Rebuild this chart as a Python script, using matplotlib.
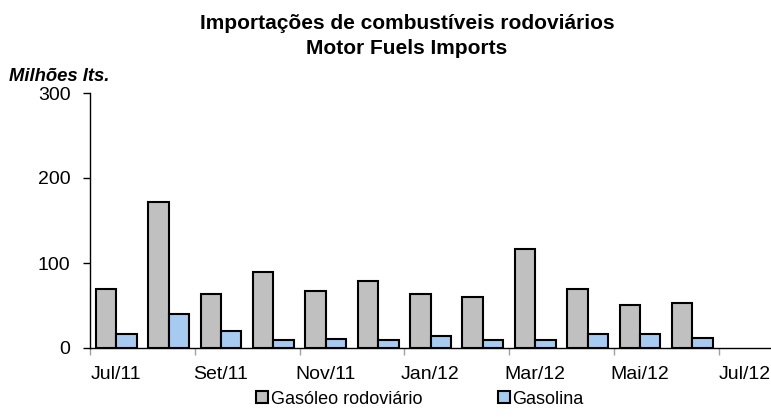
import matplotlib
matplotlib.use("Agg")
import matplotlib.pyplot as plt
import numpy as np

# Data (milhões de litros)
months = ['Jul/11', 'Ago/11', 'Set/11', 'Out/11', 'Nov/11', 'Dez/11',
          'Jan/12', 'Fev/12', 'Mar/12', 'Abr/12', 'Mai/12', 'Jun/12', 'Jul/12']
gasoleo = [70, 172, 63, 90, 67, 79, 63, 60, 117, 70, 51, 53, None]
gasolina = [17, 40, 20, 10, 11, 10, 14, 10, 10, 17, 16, 12, None]
y_ticks = [0, 100, 200, 300]

plt.rcParams['font.family'] = ['Liberation Sans', 'DejaVu Sans']

fig = plt.figure(figsize=(7.71, 4.17), dpi=100)
ax = fig.add_axes([90 / 771, 1 - 348 / 417, 1 - 90 / 771, (348 - 93) / 417])

x = np.arange(len(months))
w = 0.39
has = np.array([v is not None for v in gasoleo])
g_vals = np.array([v for v in gasoleo if v is not None])
b_vals = np.array([v for v in gasolina if v is not None])

ax.bar(x[has] - w / 2, g_vals, width=w, color='#C0C0C0',
       edgecolor='black', linewidth=1.5, label='Gasóleo rodoviário', zorder=2)
ax.bar(x[has] + w / 2, b_vals, width=w, color='#A6CAF0',
       edgecolor='black', linewidth=1.5, label='Gasolina', zorder=2)

ax.set_xlim(-0.5, len(months) - 0.5)
ax.set_ylim(0, 300)
ax.set_yticks(y_ticks)

# tick marks on category boundaries, labels on every other category
ax.set_xticks(np.arange(-0.5, len(months), 2))
ax.set_xticklabels([])
ax.set_xticks(x[::2], minor=True)
ax.set_xticklabels(months[::2], minor=True)
ax.tick_params(axis='x', which='major', length=5, color='#A0A0A0', width=1)
ax.tick_params(axis='x', which='minor', length=0, pad=13, labelsize=14)
ax.tick_params(axis='y', length=5, width=1, pad=9, labelsize=14)

for s in ['top', 'right']:
    ax.spines[s].set_visible(False)
ax.spines['left'].set_linewidth(1)
ax.spines['bottom'].set_linewidth(1)

fig.text(407 / 771, 1 - 29 / 417, 'Importações de combustíveis rodoviários',
         ha='center', va='baseline', fontsize=15, fontweight='bold')
fig.text(407 / 771, 1 - 54 / 417, 'Motor Fuels Imports',
         ha='center', va='baseline', fontsize=15, fontweight='bold')
fig.text(9 / 771, 1 - 81 / 417, 'Milhões lts.', ha='left', va='baseline',
         fontsize=13.3, fontweight='bold', fontstyle='italic')

fig.legend(loc='center', bbox_to_anchor=(420 / 771, 1 - 399 / 417), ncol=2,
           frameon=False, fontsize=13, handlelength=0.65, handleheight=0.65,
           handletextpad=0.15, columnspacing=4.2)

fig.savefig('out.png', dpi=100)
